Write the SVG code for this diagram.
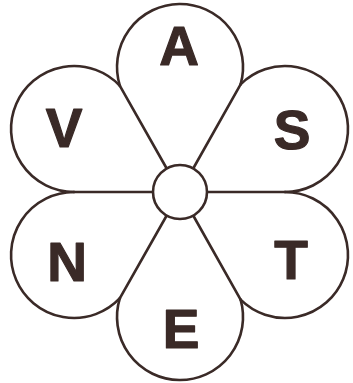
<svg xmlns="http://www.w3.org/2000/svg" width="353" height="383" viewBox="0 0 353 383">
<style>
.p{fill:none;stroke:#3a2a27;stroke-width:2.6;stroke-linejoin:round;stroke-linecap:round}
.l{font-family:"Liberation Sans",Arial,sans-serif;font-weight:bold;font-size:55px;fill:#3a2a27;stroke:#3a2a27;stroke-width:1.2;stroke-linejoin:round;text-anchor:middle}
</style>
<rect width="353" height="383" fill="#ffffff"/>
<g id="connectors">
<path class="p" d="M166.7,168.5 L119.9,85.8 M193.2,168.5 L240.6,84.3 M207,192 L285,192 M193.2,215.5 L240.6,299.7 M166.7,215.5 L119.9,298.2 M153,192 L74,192"/>
</g>
<g id="petal-A">
<path class="p" d="M119.9,85.8 A63,63 0 1 1 240.6,84.3"/>
<text class="l" x="179" y="65">A</text>
</g>
<g id="petal-S">
<path class="p" d="M240.6,84.3 A63,63 0 1 1 285,192"/>
<text class="l" x="292" y="149">S</text>
</g>
<g id="petal-T">
<path class="p" d="M285,192 A63,63 0 1 1 240.6,299.7"/>
<text class="l" x="291" y="279">T</text>
</g>
<g id="petal-E">
<path class="p" d="M240.6,299.7 A63,63 0 1 1 119.9,298.2"/>
<text class="l" x="181" y="348">E</text>
</g>
<g id="petal-N">
<path class="p" d="M119.9,298.2 A63,63 0 1 1 74,192"/>
<text class="l" x="67" y="281">N</text>
</g>
<g id="petal-V">
<path class="p" d="M74,192 A63,63 0 1 1 119.9,85.8"/>
<text class="l" x="64" y="147">V</text>
</g>
<g id="center">
<circle cx="180" cy="192" r="27" fill="#ffffff" stroke="#3a2a27" stroke-width="2.6"/>
</g>
</svg>
